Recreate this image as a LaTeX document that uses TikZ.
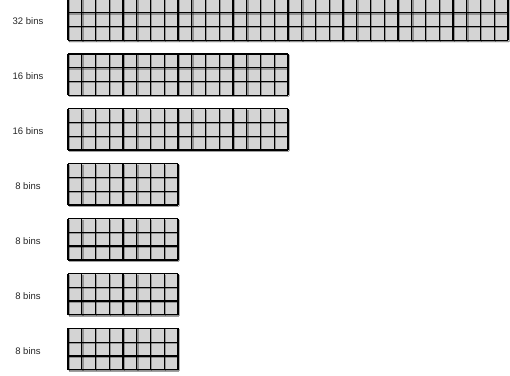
\documentclass[tikz,border=0pt]{standalone}
\usepackage{fontspec}
\setmainfont{Liberation Sans}

\begin{document}
\begin{tikzpicture}[x=1pt, y=-1pt,
    binfill/.style={fill=black!17},
    binshade/.style={fill=black, opacity=0.10},
    binline/.style={draw=black, line width=1.3pt},
    binghost/.style={draw=black, opacity=0.3, line width=1.3pt},
    binlabel/.style={font=\fontsize{9.5}{11}\selectfont, text=black!85}]
    \useasboundingbox (0,0) rectangle (510,375);

    % One block of 3 rows per bin count
    \foreach \r/\n in {0/32, 1/16, 2/16, 3/8, 4/8, 5/8, 6/8} {
        \pgfmathsetmacro{\ytop}{-1+54.9*\r}
        \pgfmathsetmacro{\xend}{68+13.75*\n}
        \node[binlabel] (lab\r) at (28,\ytop+22.6) {\n\ bins};
        % soft shadow and fill
        \fill[binshade] (68.5,\ytop+1.5) rectangle (\xend+1,\ytop+43.5);
        \fill[binshade] (68,\ytop+1) rectangle (\xend+0.5,\ytop+42.5);
        \fill[binfill] (68,\ytop) rectangle (\xend,\ytop+41.25);
        % shadow lines, then the grid
        \foreach \c in {0,...,\n} {
            \draw[binghost] ({69.2+13.75*\c},\ytop+1) -- ({69.2+13.75*\c},\ytop+42.5);
        }
        \foreach \k in {1,2,3} {
            \draw[binghost] (68.5,{\ytop+1.2+13.75*\k}) -- (\xend+1,{\ytop+1.2+13.75*\k});
        }
        \foreach \c in {0,...,\n} {
            \draw[binline] ({68+13.75*\c},\ytop) -- ({68+13.75*\c},\ytop+41.25);
        }
        \foreach \k in {0,...,3} {
            \draw[binline] (68,{\ytop+13.75*\k}) -- (\xend,{\ytop+13.75*\k});
        }
    }
\end{tikzpicture}
\end{document}
